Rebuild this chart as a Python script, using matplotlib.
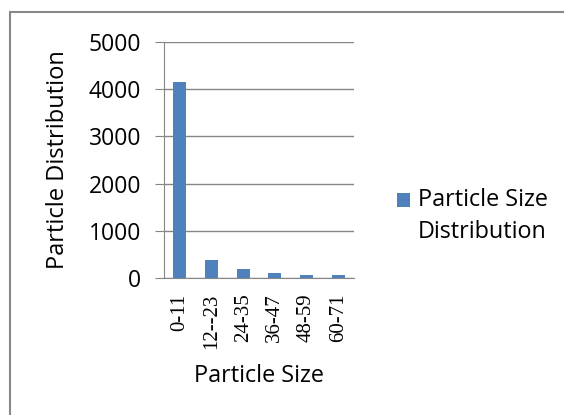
import matplotlib.pyplot as plt
import numpy as np
from matplotlib.patches import Rectangle
from matplotlib.legend_handler import HandlerPatch
from matplotlib.container import BarContainer

# data
categories = ['0-11', '12--23', '24-35', '36-47', '48-59', '60-71']
counts = [4160, 385, 200, 115, 60, 60]
series_name = 'Particle Size\nDistribution'

W, H = 564, 415
fig = plt.figure(figsize=(W / 100, H / 100), dpi=100)
fig.patch.set_facecolor('white')

# outer chart frame (grey)
fig.patches.append(Rectangle((10 / W, -0.1), 1.2, 1 - 12 / H + 0.1, transform=fig.transFigure,
                             fill=False, edgecolor='#888888', linewidth=1.5))

ax = fig.add_axes([164 / W, 1 - 278 / H, 190 / W, 236 / H])
x = np.arange(len(categories))
ax.bar(x, counts, width=0.41, color='#4f81bd', label=series_name, zorder=3)

ax.set_xlim(-0.5, len(categories) - 0.5)
ax.set_ylim(0, 5000)
ax.set_yticks(np.arange(0, 5001, 1000))
ax.yaxis.grid(True, color='#868686', linewidth=1, zorder=0)
ax.set_axisbelow(True)

for s in ['top', 'right']:
    ax.spines[s].set_visible(False)
ax.spines['left'].set_color('#868686')
ax.spines['bottom'].set_color('#868686')

ax.tick_params(axis='y', length=6.5, color='#868686', labelsize=16.5, pad=10)
ax.tick_params(axis='x', length=0, pad=11)
ax.set_xticks(x)
ax.set_xticklabels(categories, rotation=90, family='Liberation Serif', fontsize=15)
for lab in ax.get_yticklabels():
    lab.set_family('Open Sans')

ax.set_ylabel('Particle Distribution', family='Open Sans', fontsize=17)
ax.yaxis.set_label_coords(-0.495, 0.5)
ax.set_xlabel('Particle Size', family='Open Sans', fontsize=16.8)
ax.xaxis.set_label_coords(0.5, -0.365)


# legend marker sits next to the first line of the label
def top_square(legend, orig_handle, xdescent, ydescent, width, height, fontsize):
    return Rectangle((-xdescent, -ydescent + 0.72 * fontsize), width, height)


def first_child(legend_handle, orig_handle):
    legend_handle.update_from(orig_handle.patches[0])


leg = fig.legend(loc='center left', bbox_to_anchor=(397 / W, 1 - 216 / H), frameon=False,
                 prop={'family': 'Open Sans', 'size': 16.8}, handlelength=0.56,
                 handleheight=0.56, handletextpad=0.34, borderpad=0, borderaxespad=0,
                 handler_map={BarContainer: HandlerPatch(patch_func=top_square,
                                                         update_func=first_child)})
for t in leg.get_texts():
    t.set_linespacing(1.45)

plt.savefig('out.png', dpi=100)
